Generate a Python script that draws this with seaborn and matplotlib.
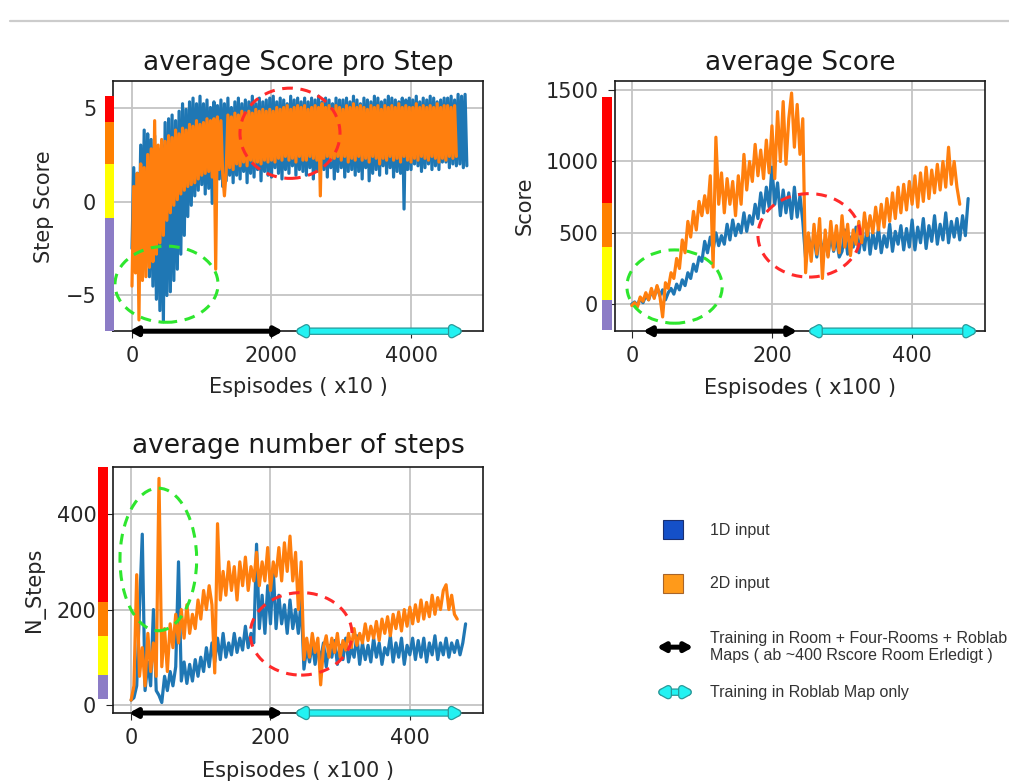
"""
Training curves, 1D vs 2D input
===============================
Three panels (score per step, score, number of steps) with the rating
strips on the left, the training-phase arrows along the x axis and the
annotation ellipses, plus a hand-made legend in the free corner.

Output:
    out.png
"""

import numpy as np
import matplotlib.pyplot as plt
import matplotlib.patches as mpatches
import matplotlib.patheffects as pe
from matplotlib.lines import Line2D
import seaborn as sns

BLUE   = '#1f77b4'
ORANGE = '#ff7f0e'

# ── Data ──────────────────────────────────────────────────────────────────────

# average Score pro Step, one value every 25 episodes (x10)
STEP_DX = 25
STEP_SCORE_1D = [
    -2.5, 1.8, -3.0, 1.5, -2.8, 3.0, -3.2, 3.8, -2.5, 3.6, -4.0, 3.3, -4.5, 3.5, -5.2, 2.8, -5.8, 3.0, -6.4, 4.2,
    -5.0, 4.4, -4.8, 4.6, -4.2, 4.3, -3.6, 4.8, -2.8, 5.2, -1.8, 4.9, -0.8, 5.3, -0.2, 5.5, 0.3, 5.2, 0.6, 5.6,
    0.9, 5.2, 0.4, 5.4, 0.7, 5.0, -0.1, 5.3, 0.9, 5.1, 1.2, 5.4, 0.8, 5.2, 1.1, 5.5, 1.4, 5.0, 1.0, 5.3,
    1.4, 5.5, 1.2, 5.2, 1.6, 5.4, 1.0, 5.3, 1.5, 5.6, 1.3, 5.2, 1.7, 5.5, 1.1, 5.3, 1.6, 5.4, 1.4, 5.5,
    1.3, 5.6, 1.8, 5.3, 1.5, 5.5, 1.2, 5.4, 1.7, 5.2, 1.5, 5.6, 1.9, 5.4, 1.4, 5.5, 1.7, 5.3, 1.6, 5.5,
    1.4, 5.3, 1.8, 5.5, 1.2, 5.4, 1.6, 5.6, 1.5, 5.3, 1.7, 5.5, 1.3, 5.4, 1.8, 5.2, 1.2, 5.5, 1.6, 5.4,
    1.8, 5.4, 1.3, 5.5, 1.6, 5.3, 1.7, 5.6, 1.4, 5.4, 1.6, 5.2, 1.2, 5.5, 1.8, 5.4, 1.1, 5.3, 1.5, 5.6,
    1.7, 5.5, 1.4, 5.3, 1.9, 5.4, 1.5, 5.6, 1.8, 5.5, 1.3, 5.4, 1.6, 5.3, 1.5, 5.5, -0.4, 5.4, 1.7, 5.5,
    1.7, 5.4, 2.0, 5.6, 1.9, 5.3, 1.6, 5.5, 1.8, 5.4, 2.0, 5.6, 1.7, 5.5, 1.9, 5.3, 1.7, 5.4, 2.1, 5.5,
    2.1, 5.5, 1.8, 5.6, 2.0, 5.4, 1.9, 5.7, 2.0, 5.6, 1.8, 5.7, 1.9,
]
STEP_SCORE_2D = [
    -4.5, 0.8, -3.8, 1.5, -6.3, 2.0, -4.2, 1.8, -4.0, 2.5, -3.5, 2.8, -3.2, 4.3, -2.8, 3.0, -2.2, 3.3, -1.8, 3.2,
    -1.0, 3.5, -0.6, 3.4, -0.2, 3.8, 0.1, 3.6, 0.4, 3.9, 0.6, 3.8, 0.8, 4.1, 0.9, 4.0, 1.0, 4.3, 1.2, 4.1,
    1.4, 4.2, 1.5, 4.4, 1.6, 4.3, 1.3, 4.4, -3.6, 4.5, 1.7, 4.3, 1.5, 0.3, 1.6, 4.6, 1.8, 4.5, 1.7, 4.7,
    2.0, 4.6, 1.9, 4.8, 2.1, 4.7, 1.9, 4.8, 2.2, 4.7, 2.0, 4.9, 2.1, 4.8, 2.0, 4.9, 2.2, 4.8, 2.1, 4.9,
    2.2, 4.8, 2.1, 5.0, 2.3, 4.9, 2.2, 5.0, 2.4, 5.1, 2.2, 4.9, 2.3, 5.0, 2.1, 5.1, 2.4, 5.0, 2.2, 5.1,
    2.2, 4.9, 2.4, 5.0, 2.3, 5.1, 2.2, 5.0, 0.3, 5.2, 2.3, 5.0, 2.4, 5.1, 2.2, 4.9, 2.3, 5.1, 2.4, 5.0,
    2.2, 4.9, 2.4, 5.1, 2.1, 5.0, 2.3, 5.2, 2.2, 5.0, 2.4, 5.1, 2.2, 5.0, 2.3, 4.9, 2.1, 5.1, 2.4, 5.0,
    2.3, 5.1, 2.0, 4.9, 2.3, 5.1, 2.2, 5.0, 2.4, 5.1, 2.2, 5.0, 2.3, 5.2, 2.1, 5.0, 2.4, 5.1, 2.2, 5.0,
    2.1, 5.0, 2.3, 5.2, 2.2, 5.0, 2.4, 5.1, 2.3, 5.0, 2.2, 5.1, 2.4, 5.0, 2.3, 5.2, 2.1, 5.0, 2.3, 5.1,
    2.2, 5.1, 2.4, 5.0, 2.3, 5.1, 2.4,
]

# average Score and average number of steps, one value every 4 (x100)
EP_DX = 4
SCORE_1D = [
    0, 15, -10, 40, 10, 60, 30, 90, 50, 120, 60, 100, 30, 80, 110, 70, 140, 100, 170, 130, 220, 180, 280, 230, 330,
    300, 440, 360, 470, 380, 500, 410, 480, 420, 560, 450, 590, 480, 560, 500, 640, 510, 620, 560, 700, 600, 780, 640, 820, 680,
    960, 700, 850, 620, 800, 640, 780, 600, 820, 610, 760, 580, 320, 480, 380, 470, 330, 500, 360, 450, 340, 480, 370, 460, 330,
    370, 520, 350, 470, 400, 540, 360, 490, 380, 560, 350, 500, 390, 530, 360, 480, 400, 560, 370, 510, 420, 550, 380, 530, 400,
    590, 380, 540, 430, 600, 390, 550, 440, 620, 420, 560, 450, 640, 430, 580, 470, 600, 450, 620, 480, 740,
]
SCORE_2D = [
    -10, 10, -20, 50, 20, 80, 30, 110, 40, 130, 60, -90, 150, 110, 220, 180, 320, 250, 450, 360, 580, 470, 650, 520, 720,
    620, 760, 640, 900, 260, 1170, 700, 920, 640, 880, 700, 860, 620, 900, 700, 1050, 800, 1000, 860, 1120, 900, 1080, 880, 1150, 920,
    1250, 880, 1350, 1000, 1420, 980, 1300, 1480, 1100, 1400, 1050, 1300, 220, 500, 300, 560, 350, 600, 180, 520, 330, 580, 380, 550, 360,
    620, 400, 560, 340, 520, 420, 580, 430, 640, 480, 620, 500, 680, 520, 700, 540, 740, 580, 780, 600, 820, 640, 840, 660, 860,
    700, 900, 680, 920, 720, 960, 740, 940, 780, 980, 800, 1000, 820, 1100, 840, 1000, 820, 700,
]
N_STEPS_1D = [
    10, 15, 40, 200, 358, 30, 90, 40, 200, 30, 20, 5, 60, 30, 70, 40, 80, 300, 50, 90, 45, 85, 50, 95, 60,
    100, 70, 120, 80, 130, 90, 140, 95, 150, 100, 130, 105, 150, 110, 140, 115, 165, 120, 150, 130, 337, 160, 230, 150, 250,
    170, 285, 160, 230, 170, 210, 150, 220, 160, 200, 150, 220, 75, 120, 90, 130, 85, 120, 95, 130, 80, 125, 100, 135, 85,
    125, 95, 140, 90, 120, 100, 145, 85, 130, 95, 125, 90, 140, 100, 130, 85, 120, 105, 145, 90, 130, 100, 140, 85, 125,
    105, 140, 95, 135, 100, 140, 90, 130, 105, 145, 95, 130, 105, 140, 100, 130, 110, 135, 105, 130, 170,
]
N_STEPS_2D = [
    10, 40, 273, 60, 120, 40, 150, 70, 130, 60, 475, 80, 160, 70, 170, 120, 190, 130, 200, 140, 210, 150, 190, 160, 220,
    180, 240, 200, 250, 210, 67, 380, 220, 280, 230, 300, 240, 290, 220, 300, 250, 310, 240, 290, 260, 320, 250, 300, 260, 330,
    240, 300, 270, 330, 260, 340, 280, 354, 260, 320, 200, 300, 95, 140, 100, 150, 110, 140, 42, 120, 145, 100, 140, 110, 150,
    100, 135, 115, 150, 120, 160, 125, 150, 130, 170, 135, 165, 140, 175, 135, 180, 150, 185, 145, 190, 160, 195, 155, 200, 165,
    205, 170, 210, 175, 220, 180, 215, 185, 230, 190, 225, 200, 240, 252, 200, 230, 190, 180,
]

# rating strips: (lower, upper, colour) in data units
STEP_BANDS  = [(-6.9, -0.9, '#8c7cc6'), (-0.9, 2.0, '#ffff00'),
               (2.0, 4.25, '#ff8000'), (4.25, 5.6, '#ff0000')]
SCORE_BANDS = [(-183, 28, '#8c7cc6'), (28, 401, '#ffff00'),
               (401, 711, '#ff8000'), (711, 1451, '#ff0000')]
NSTEP_BANDS = [(13, 63, '#8c7cc6'), (63, 145, '#ffff00'),
               (145, 215, '#ff8000'), (215, 499, '#ff0000')]

# annotation ellipses: (centre x, centre y, width, height, colour)
STEP_RINGS  = [(495, -4.4, 1477, 4.05, '#2ee62e'), (2265, 3.63, 1434, 4.8, '#ff2a2a')]
SCORE_RINGS = [(61, 123, 136, 514, '#2ee62e'), (253, 482, 146, 585, '#ff2a2a')]
NSTEP_RINGS = [(39, 305, 110, 299, '#2ee62e'), (244, 149, 146, 173, '#ff2a2a')]

# training phases along the x axis: (start, end)
STEP_PHASES  = [(-40, 2165), (2337, 4746)]
SCORE_PHASES = [(16, 236), (251, 493)]
NSTEP_PHASES = [(-3, 218), (235, 476)]

sns.set_style('ticks', {
    'axes.grid': True,
    'grid.color': '#c4c4c4',
    'axes.edgecolor': '#1a1a1a',
})
plt.rcParams.update({
    'font.family': ['DejaVu Sans'],
    'axes.linewidth': 1.2,
    'grid.linewidth': 1.3,
    'xtick.labelsize': 15,
    'ytick.labelsize': 15,
    'axes.labelsize': 15,
    'xtick.major.size': 5,
    'ytick.major.size': 5,
    'xtick.major.pad': 5.5,
    'ytick.major.pad': 7,
    'xtick.color': '#262626',
    'ytick.color': '#262626',
})

ARROW_STYLE = '<|-|>,head_length=0.45,head_width=0.25'


def phase_arrow(start, end, cyan, transform):
    arr = mpatches.FancyArrowPatch(start, end, arrowstyle=ARROW_STYLE,
                                   mutation_scale=10, lw=3.6,
                                   shrinkA=0, shrinkB=0, clip_on=False,
                                   zorder=7, transform=transform,
                                   color='#22f2f2' if cyan else 'black')
    if cyan:
        arr.set_path_effects([pe.Stroke(linewidth=5.4, foreground='#2a9a9a'),
                              pe.Normal()])
    return arr


def draw_panel(ax, dx, y1d, y2d, title, title_pad, xlabel, ylabel, xpad,
               xlim, ylim, xticks, yticks, bands, strip, rings, phases):
    x1d = np.arange(len(y1d)) * dx
    x2d = np.arange(len(y2d)) * dx
    sns.lineplot(x=x1d, y=y1d, ax=ax, color=BLUE, linewidth=2.3,
                 estimator=None, sort=False)
    sns.lineplot(x=x2d, y=y2d, ax=ax, color=ORANGE, linewidth=2.3,
                 estimator=None, sort=False)

    ax.set_xlim(*xlim)
    ax.set_ylim(*ylim)
    ax.set_xticks(xticks)
    ax.set_yticks(yticks)
    ax.set_title(title, fontsize=19, pad=title_pad, color='#1a1a1a')
    ax.set_xlabel(xlabel, color='#262626', labelpad=xpad)
    ax.set_ylabel(ylabel, color='#262626', labelpad=8)
    for side in ax.spines.values():
        side.set_visible(True)

    for cx, cy, w, h, c in rings:
        ax.add_patch(mpatches.Ellipse((cx, cy), w, h, fill=False,
                                      edgecolor=c, lw=2.2,
                                      linestyle=(0, (3.5, 2.5)), zorder=5))

    ytrans = ax.get_yaxis_transform()
    for lo, hi, c in bands:
        ax.add_patch(mpatches.Rectangle((strip[0], lo), strip[1] - strip[0],
                                        hi - lo, transform=ytrans, color=c,
                                        lw=0, clip_on=False, zorder=6))

    xtrans = ax.get_xaxis_transform()
    (a0, a1), (b0, b1) = phases
    ax.add_patch(phase_arrow((a0, 0), (a1, 0), False, xtrans))
    ax.add_patch(phase_arrow((b0, 0), (b1, 0), True, xtrans))


def draw_legend(fig):
    ftr = fig.transFigure
    txt = dict(fontsize=11.5, family=['Liberation Sans', 'DejaVu Sans'],
               color='#333333', va='center', ha='left')
    fig.patches.append(mpatches.Rectangle((0.657, 0.312), 0.0198, 0.0243,
                                          transform=ftr, facecolor='#1550c8',
                                          edgecolor='#1a2f70', lw=0.8))
    fig.patches.append(mpatches.Rectangle((0.657, 0.243), 0.0198, 0.0243,
                                          transform=ftr, facecolor='#ff9a1a',
                                          edgecolor='#a8652a', lw=0.8))
    fig.text(0.7037, 0.323, '1D input', **txt)
    fig.text(0.7037, 0.2554, '2D input', **txt)

    fig.patches.append(phase_arrow((0.651, 0.1735), (0.687, 0.1735), False, ftr))
    fig.patches.append(phase_arrow((0.651, 0.116), (0.687, 0.116), True, ftr))
    fig.text(0.7037, 0.1735,
             'Training in Room + Four-Rooms + Roblab\n'
             'Maps ( ab ~400 Rscore Room Erledigt )', linespacing=1.15, **txt)
    fig.text(0.7037, 0.116, 'Training in Roblab Map only', **txt)


def main():
    fig = plt.figure(figsize=(10.09, 7.83), dpi=100)
    fig.add_artist(Line2D([0.01, 1.0], [0.973, 0.973], transform=fig.transFigure,
                          color='#cccccc', lw=1.6))

    ax1 = fig.add_axes([0.112, 0.577, 0.3667, 0.3193])
    ax2 = fig.add_axes([0.6095, 0.577, 0.3667, 0.3193])
    ax3 = fig.add_axes([0.112, 0.0894, 0.3667, 0.3142])

    draw_panel(ax1, STEP_DX, STEP_SCORE_1D, STEP_SCORE_2D,
               'average Score pro Step', 8, 'Espisodes ( x10 )', 'Step Score', 8,
               (-272, 5032), (-6.9, 6.4), [0, 2000, 4000], [-5, 0, 5],
               STEP_BANDS, (-0.022, 0.003), STEP_RINGS, STEP_PHASES)
    draw_panel(ax2, EP_DX, SCORE_1D, SCORE_2D,
               'average Score', 8, 'Espisodes ( x100 )', 'Score', 9,
               (-24, 504), (-190, 1563), [0, 200, 400], [0, 500, 1000, 1500],
               SCORE_BANDS, (-0.035, -0.008), SCORE_RINGS, SCORE_PHASES)
    draw_panel(ax3, EP_DX, N_STEPS_1D, N_STEPS_2D,
               'average number of steps', 10, 'Espisodes ( x100 )', 'N_Steps', 10,
               (-26, 505), (-17, 499), [0, 200, 400], [0, 200, 400],
               NSTEP_BANDS, (-0.041, -0.014), NSTEP_RINGS, NSTEP_PHASES)

    draw_legend(fig)
    fig.savefig('out.png', dpi=100, facecolor='white')
    plt.close(fig)


if __name__ == '__main__':
    main()
